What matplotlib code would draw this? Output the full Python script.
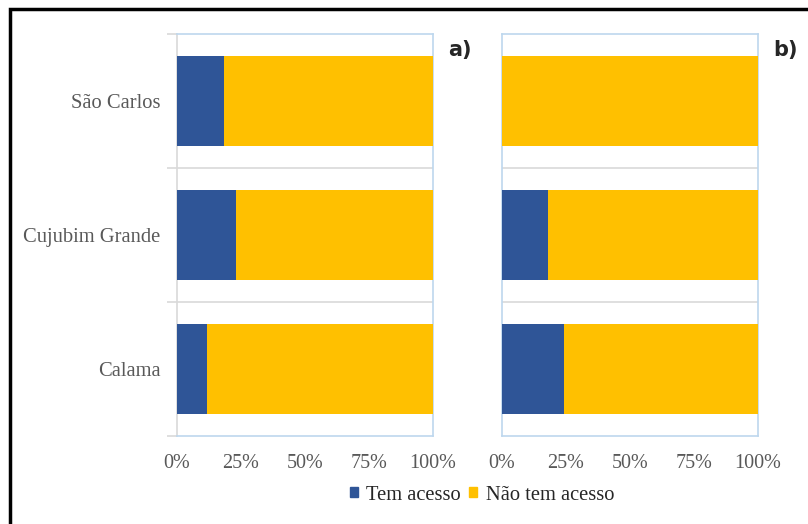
import matplotlib
matplotlib.use("Agg")
import matplotlib.pyplot as plt
from matplotlib.patches import Rectangle, Patch

categories = ["Calama", "Cujubim Grande", "São Carlos"]
tem_a = [11.9, 23.0, 18.4]
tem_b = [24.3, 17.8, 0.0]
nao_a = [100 - v for v in tem_a]
nao_b = [100 - v for v in tem_b]
xticks = [0, 25, 50, 75, 100]
xticklabels = ["0%", "25%", "50%", "75%", "100%"]

BLUE = "#2F5597"
GOLD = "#FFC000"
FRAME = "#BDD7EE"
GRID = "#D9D9D9"
TXT = "#595959"

plt.rcParams["font.family"] = ["Liberation Serif", "DejaVu Serif"]

W, H = 808, 524
fig = plt.figure(figsize=(W / 100, H / 100), dpi=100)

def box(x0, y0, x1, y1):
    return [x0 / W, 1 - y1 / H, (x1 - x0) / W, (y1 - y0) / H]

ax_a = fig.add_axes(box(177, 34, 433, 436))
ax_b = fig.add_axes(box(502, 34, 758, 436))

for ax, tem, nao, lab, first in [(ax_a, tem_a, nao_a, "a)", True),
                                 (ax_b, tem_b, nao_b, "b)", False)]:
    y = range(len(categories))
    ax.barh(y, tem, height=0.667, color=BLUE, edgecolor="none", zorder=3)
    ax.barh(y, nao, left=tem, height=0.667, color=GOLD, edgecolor="none", zorder=3)
    ax.set_xlim(0, 100)
    ax.set_ylim(-0.5, len(categories) - 0.5)
    ax.set_xticks(xticks)
    ax.set_xticklabels(xticklabels, fontsize=14.5, color=TXT)
    ax.tick_params(axis="x", length=0, pad=13)
    # category separators
    for b in [0.5, 1.5]:
        ax.axhline(b, color=GRID, lw=1.2, zorder=1)
    for s in ax.spines.values():
        s.set_color(FRAME)
        s.set_linewidth(1.2)
    if first:
        ax.set_yticks([-0.5, 0.5, 1.5, 2.5])
        ax.set_yticklabels([])
        ax.set_yticks(list(y), minor=True)
        ax.set_yticklabels(categories, minor=True, fontsize=14.8, color=TXT)
        ax.tick_params(axis="y", which="major", length=7, color=GRID, width=1.2)
        ax.tick_params(axis="y", which="minor", length=0, pad=12)
        ax.spines["left"].set_color(GRID)
    else:
        ax.set_yticks([])
    ax.text(1.06, 0.985, lab, transform=ax.transAxes, fontsize=15, fontweight="bold",
            family=["DejaVu Sans"], color="#262626", ha="left", va="top")

leg = fig.legend(handles=[Patch(color=BLUE, label="Tem acesso"),
                          Patch(color=GOLD, label="Não tem acesso")],
                 loc="center", bbox_to_anchor=(482 / W, 1 - 495 / H), ncol=2, frameon=False,
                 fontsize=14.8, handlelength=0.4, handleheight=0.4, handletextpad=0.4,
                 columnspacing=0.4)
for t in leg.get_texts():
    t.set_color("#262626")

# outer black frame, cut off on the right and bottom
fig.patches.append(Rectangle((10 / W, -0.05), 1.05, 1 - 9 / H + 0.05, transform=fig.transFigure,
                             fill=False, edgecolor="black", lw=2.5))

fig.savefig("out.png", dpi=100)
